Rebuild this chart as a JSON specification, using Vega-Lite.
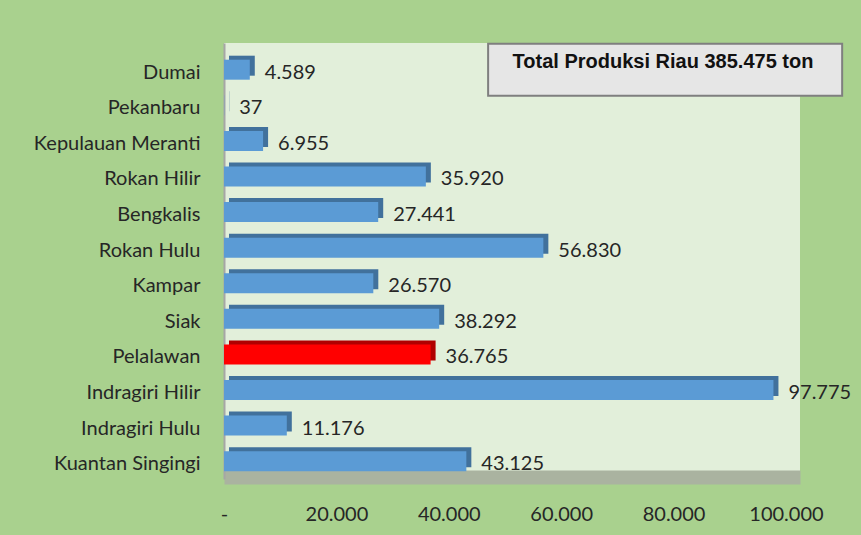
{
  "$schema": "https://vega.github.io/schema/vega-lite/v6.json",
  "width": 576,
  "height": 436,
  "autosize": {"type": "none"},
  "padding": {"left": 224, "top": 43, "right": 61, "bottom": 56},
  "background": "#a9d18e",
  "config": {
    "view": {"fill": "#e2efda", "stroke": null},
    "font": "Lato",
    "locale": {"number": {"decimal": ",", "thousands": ".", "grouping": [3], "currency": ["", ""]}}
  },
  "datasets": {
    "prod": [
      {"kabupaten": "Dumai", "produksi": 4589},
      {"kabupaten": "Pekanbaru", "produksi": 37},
      {"kabupaten": "Kepulauan Meranti", "produksi": 6955},
      {"kabupaten": "Rokan Hilir", "produksi": 35920},
      {"kabupaten": "Bengkalis", "produksi": 27441},
      {"kabupaten": "Rokan Hulu", "produksi": 56830},
      {"kabupaten": "Kampar", "produksi": 26570},
      {"kabupaten": "Siak", "produksi": 38292},
      {"kabupaten": "Pelalawan", "produksi": 36765},
      {"kabupaten": "Indragiri Hilir", "produksi": 97775},
      {"kabupaten": "Indragiri Hulu", "produksi": 11176},
      {"kabupaten": "Kuantan Singingi", "produksi": 43125}
    ],
    "note": [
      {"kabupaten": "Dumai", "x0": 47000, "x1": 110000, "xm": 78120, "label": "Total Produksi Riau 385.475 ton"}
    ]
  },
  "layer": [
    {
      "data": {"name": "prod"},
      "mark": {"type": "bar", "size": 20, "xOffset": 5, "yOffset": -4, "clip": false},
      "encoding": {
        "y": {
          "field": "kabupaten", "type": "nominal", "sort": null,
          "scale": {"paddingInner": 0, "paddingOuter": 0.125, "align": 1},
          "axis": {"title": null, "ticks": false, "labelPadding": 24, "labelOffset": 3, "labelFontSize": 20, "labelColor": "#262626", "domainColor": "#a6a6a6", "domainWidth": 2, "labelFont": "Lato"}
        },
        "x": {
          "field": "produksi", "type": "quantitative",
          "scale": {"domain": [0, 102500]},
          "axis": {"title": null, "grid": false, "ticks": false, "values": [0, 20000, 40000, 60000, 80000, 100000], "format": ",d", "labelExpr": "datum.value == 0 ? '-' : datum.label", "labelFontSize": 20, "labelColor": "#262626", "domainColor": "#aab3a0", "domainWidth": 14, "offset": -2, "labelPadding": 27, "labelFlush": false}
        },
        "color": {"condition": {"test": "datum.kabupaten == 'Pelalawan'", "value": "#b00000"}, "value": "#41719c"}
      }
    },
    {
      "data": {"name": "prod"},
      "mark": {"type": "bar", "size": 20, "clip": false},
      "encoding": {
        "y": {"field": "kabupaten", "type": "nominal", "sort": null},
        "x": {"field": "produksi", "type": "quantitative", "scale": {"domain": [0, 102500]}},
        "color": {"condition": {"test": "datum.kabupaten == 'Pelalawan'", "value": "#ff0000"}, "value": "#5b9bd5"}
      }
    },
    {
      "data": {"name": "prod"},
      "mark": {"type": "text", "align": "left", "baseline": "middle", "dx": 15, "dy": 3, "fontSize": 20, "color": "#262626"},
      "encoding": {
        "y": {"field": "kabupaten", "type": "nominal", "sort": null},
        "x": {"field": "produksi", "type": "quantitative", "scale": {"domain": [0, 102500]}},
        "text": {"field": "produksi", "type": "quantitative", "format": ",d"}
      }
    },
    {
      "data": {"name": "note"},
      "mark": {"type": "bar", "size": 52, "fill": "#e6e6e6", "stroke": "#7f7f7f", "strokeWidth": 2, "clip": false},
      "encoding": {
        "y": {"field": "kabupaten", "type": "nominal", "sort": null},
        "x": {"field": "x0", "type": "quantitative", "scale": {"domain": [0, 102500]}},
        "x2": {"field": "x1"}
      }
    },
    {
      "data": {"name": "note"},
      "mark": {"type": "text", "align": "center", "baseline": "middle", "dy": -8, "font": "Liberation Sans", "fontWeight": "bold", "fontSize": 20, "color": "#111111"},
      "encoding": {
        "y": {"field": "kabupaten", "type": "nominal", "sort": null},
        "x": {"field": "xm", "type": "quantitative", "scale": {"domain": [0, 102500]}},
        "text": {"field": "label"}
      }
    }
  ]
}
